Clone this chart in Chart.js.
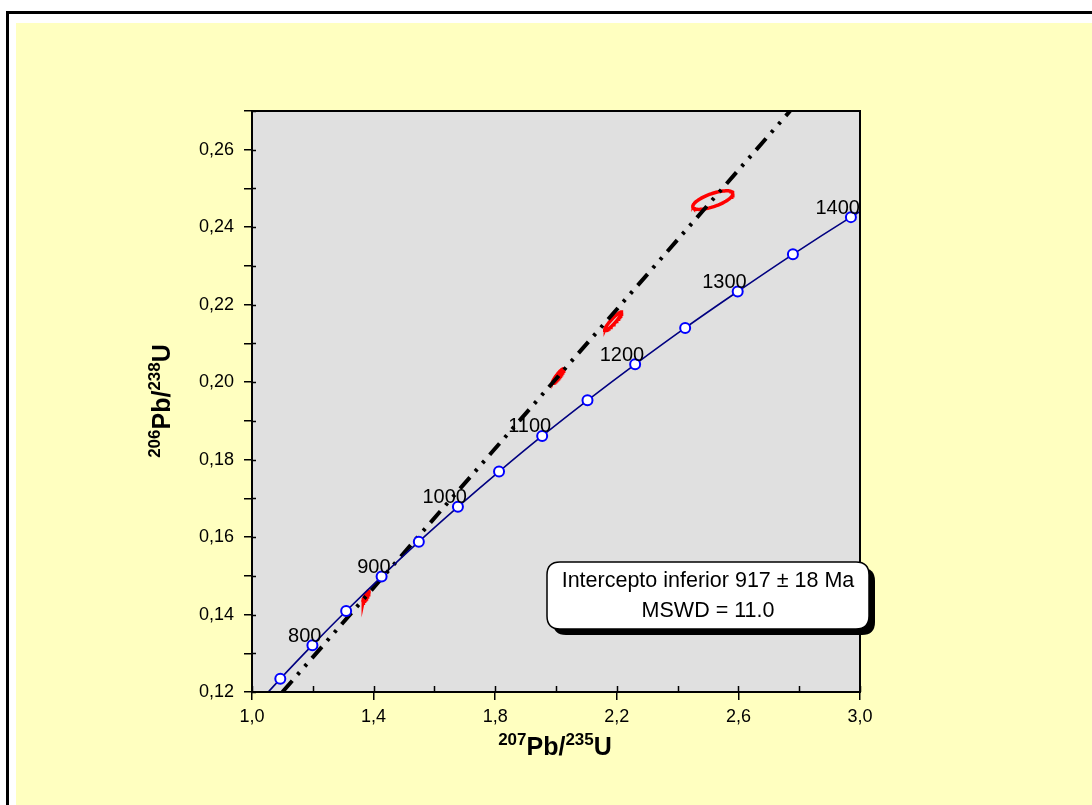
<!DOCTYPE html>
<html><head><meta charset="utf-8">
<script src="https://cdn.jsdelivr.net/npm/chart.js@4.4.0/dist/chart.umd.min.js"></script>
<style>html,body{margin:0;padding:0;background:#fff;overflow:hidden}#wrap{position:absolute;left:0;top:0;width:1092px;height:805px}</style>
</head><body><div id="wrap"><canvas id="c" width="1092" height="805"></canvas></div>
<script>
// Concordia (ages in Ma)
const concordiaAges = [700, 750, 800, 850, 900, 950, 1000, 1050, 1100, 1150, 1200, 1250, 1300, 1350, 1400, 1450];
const concordiaX = [0.9926, 1.0931, 1.1987, 1.3097, 1.4263, 1.5488, 1.6774, 1.8126, 1.9545, 2.1036, 2.2603, 2.4249, 2.5977, 2.7793, 2.9701, 3.1705];
const concordiaY = [0.1147, 0.1234, 0.1321, 0.1409, 0.1498, 0.1588, 0.1678, 0.1769, 0.1861, 0.1953, 0.2046, 0.2140, 0.2234, 0.2330, 0.2426, 0.2522];
const labelledAges = [800, 900, 1000, 1100, 1200, 1300, 1400];
// Discordia line
const discordiaX = [1.10, 2.77];
const discordiaY = [0.12, 0.27];
// Error ellipses: centre, half extents, correlation
const ellipseCx = [2.516, 2.188, 2.007, 1.375];
const ellipseCy = [0.2470, 0.2157, 0.2016, 0.1447];
const ellipseSx = [0.066, 0.028, 0.019, 0.010];
const ellipseSy = [0.0024, 0.0024, 0.0019, 0.0014];
const ellipseRho = [0.68, 0.93, 0.93, 0.88];
// Axis settings
const xMin = 1.0, xMax = 3.0, xStep = 0.2;
const yMin = 0.12, yMax = 0.27, yStep = 0.01;
const boxLines = ['Intercepto inferior 917 \u00B1 18 Ma', 'MSWD = 11.0'];

const concordiaData = concordiaX.map((x, i) => ({x: x, y: concordiaY[i]}));
const concordiaRadius = concordiaAges.map(a => (a >= 750 && a <= 1400) ? 5 : 0);
const discordiaData = discordiaX.map((x, i) => ({x: x, y: discordiaY[i]}));

function ellipsePoints(i) {
  const pts = [];
  const n = 72;
  const r = ellipseRho[i], s = Math.sqrt(1 - r * r);
  for (let k = 0; k <= n; k++) {
    const t = 2 * Math.PI * k / n;
    pts.push({x: ellipseCx[i] + ellipseSx[i] * Math.cos(t),
              y: ellipseCy[i] + ellipseSy[i] * (r * Math.cos(t) + s * Math.sin(t))});
  }
  return pts;
}

const datasets = [{
  label: 'Concordia', data: concordiaData, showLine: true,
  borderColor: '#000080', borderWidth: 1.6, tension: 0.3,
  pointRadius: concordiaRadius, pointBackgroundColor: '#ffffff',
  pointBorderColor: '#0000ff', pointBorderWidth: 2, order: 0
}, {
  label: 'Discordia', data: discordiaData, showLine: true,
  borderColor: '#000000', borderWidth: 4, borderDash: [15, 8, 3, 8, 3, 8],
  pointRadius: 0, order: 1
}];
ellipseCx.forEach((c, i) => datasets.push({
  label: 'E' + i, data: ellipsePoints(i), showLine: true,
  borderColor: '#ff0000', borderWidth: 3.5, pointRadius: 0, tension: 0, order: 2
}));

const PLOT = {left: 252, right: 860, top: 111, bottom: 692};
const Y_W = 100, X_H = 40;
const FONT = '"Liberation Sans", Arial, sans-serif';

function drawRich(ctx, parts, x, y) {
  let w = 0;
  parts.forEach(p => { ctx.font = 'bold ' + p[1] + 'px ' + FONT; w += ctx.measureText(p[0]).width; });
  let cx = x - w / 2;
  ctx.textAlign = 'left'; ctx.textBaseline = 'alphabetic';
  parts.forEach(p => {
    ctx.font = 'bold ' + p[1] + 'px ' + FONT;
    ctx.fillText(p[0], cx, y - p[2]);
    cx += ctx.measureText(p[0]).width;
  });
}

function roundRect(ctx, x, y, w, h, r) {
  ctx.beginPath();
  ctx.moveTo(x + r, y);
  ctx.lineTo(x + w - r, y); ctx.quadraticCurveTo(x + w, y, x + w, y + r);
  ctx.lineTo(x + w, y + h - r); ctx.quadraticCurveTo(x + w, y + h, x + w - r, y + h);
  ctx.lineTo(x + r, y + h); ctx.quadraticCurveTo(x, y + h, x, y + h - r);
  ctx.lineTo(x, y + r); ctx.quadraticCurveTo(x, y, x + r, y);
  ctx.closePath();
}

const decor = {
  id: 'decor',
  beforeDraw(chart) {
    const ctx = chart.ctx, a = chart.chartArea;
    ctx.save();
    ctx.fillStyle = '#ffffff'; ctx.fillRect(0, 0, chart.width, chart.height);
    ctx.fillStyle = '#000000';
    ctx.fillRect(6, 11, chart.width - 6, 3);
    ctx.fillRect(6, 11, 3, chart.height - 11);
    ctx.fillStyle = '#ffffc0'; ctx.fillRect(16, 23, chart.width - 16, chart.height - 23);
    ctx.fillStyle = '#e0e0e0'; ctx.fillRect(a.left, a.top, a.right - a.left, a.bottom - a.top);
    ctx.restore();
  },
  afterDraw(chart) {
    const ctx = chart.ctx, a = chart.chartArea;
    const xs = chart.scales.x, ys = chart.scales.y;
    ctx.save();
    ctx.strokeStyle = '#000'; ctx.lineWidth = 1.5;
    xs.ticks.forEach((t, i) => {
      const px = Math.round(xs.getPixelForTick(i)) + 0.5;
      ctx.beginPath(); ctx.moveTo(px, a.bottom); ctx.lineTo(px, a.bottom - 6); ctx.stroke();
    });
    ys.ticks.forEach((t, i) => {
      const py = Math.round(ys.getPixelForTick(i)) + 0.5;
      ctx.beginPath(); ctx.moveTo(a.left, py); ctx.lineTo(a.left + 4, py); ctx.stroke();
    });
    ctx.lineWidth = 2; ctx.strokeStyle = '#000';
    ctx.strokeRect(a.left, a.top, a.right - a.left, a.bottom - a.top);
    // age labels
    ctx.fillStyle = '#000';
    ctx.font = '20px ' + FONT;
    ctx.textAlign = 'right'; ctx.textBaseline = 'middle';
    labelledAges.forEach(age => {
      const i = concordiaAges.indexOf(age);
      const px = xs.getPixelForValue(concordiaX[i]);
      const py = ys.getPixelForValue(concordiaY[i]);
      ctx.fillText(String(age), px + 9, py - 9);
    });
    // axis titles
    drawRich(ctx, [['207', 17, 10], ['Pb/', 25, 0], ['235', 17, 10], ['U', 25, 0]], 555, 755);
    ctx.save();
    ctx.translate(170, 401); ctx.rotate(-Math.PI / 2);
    drawRich(ctx, [['206', 17, 10], ['Pb/', 25, 0], ['238', 17, 10], ['U', 25, 0]], 0, 0);
    ctx.restore();
    // text box with shadow
    const bx = 547, by = 562, bw = 322, bh = 67, br = 13;
    ctx.fillStyle = '#000';
    roundRect(ctx, bx + 6, by + 6, bw, bh, br); ctx.fill();
    ctx.fillStyle = '#fff';
    roundRect(ctx, bx, by, bw, bh, br); ctx.fill();
    ctx.lineWidth = 1.5; ctx.strokeStyle = '#000'; ctx.stroke();
    ctx.fillStyle = '#000';
    ctx.font = '21.5px ' + FONT;
    ctx.textAlign = 'center'; ctx.textBaseline = 'middle';
    ctx.fillText(boxLines[0], bx + bw / 2, by + 19);
    ctx.fillText(boxLines[1], bx + bw / 2, by + 49);
    ctx.restore();
  }
};

new Chart(document.getElementById('c'), {
  type: 'scatter',
  data: {datasets: datasets},
  options: {
    responsive: false, animation: false, devicePixelRatio: 1,
    layout: {padding: {left: PLOT.left - Y_W, right: 1092 - PLOT.right, top: PLOT.top, bottom: 805 - PLOT.bottom - X_H}},
    plugins: {legend: {display: false}, tooltip: {enabled: false}},
    scales: {
      x: {
        type: 'linear', min: xMin, max: xMax,
        afterFit(s) { s.height = X_H; },
        ticks: {stepSize: xStep, color: '#000', padding: 6,
          font: {family: FONT, size: 18},
          callback: v => (Math.round(v * 10) % 4 === 2) ? v.toFixed(1).replace('.', ',') : ''},
        grid: {drawOnChartArea: false, drawTicks: true, tickLength: 8, lineWidth: 1.5,
          tickColor: c => (c.tick && Math.round(c.tick.value * 10) % 4 === 2) ? '#000' : 'rgba(0,0,0,0)'},
        border: {display: true, color: '#000', width: 2}
      },
      y: {
        type: 'linear', min: yMin, max: yMax,
        afterFit(s) { s.width = Y_W; },
        ticks: {stepSize: yStep, color: '#000', padding: 10,
          font: {family: FONT, size: 18},
          callback: v => (Math.round(v * 100) % 2 === 0) ? v.toFixed(2).replace('.', ',') : ''},
        grid: {drawOnChartArea: false, drawTicks: true, tickLength: 8, lineWidth: 1.5, tickColor: '#000'},
        border: {display: true, color: '#000', width: 2}
      }
    }
  },
  plugins: [decor]
});
</script>
</body></html>
